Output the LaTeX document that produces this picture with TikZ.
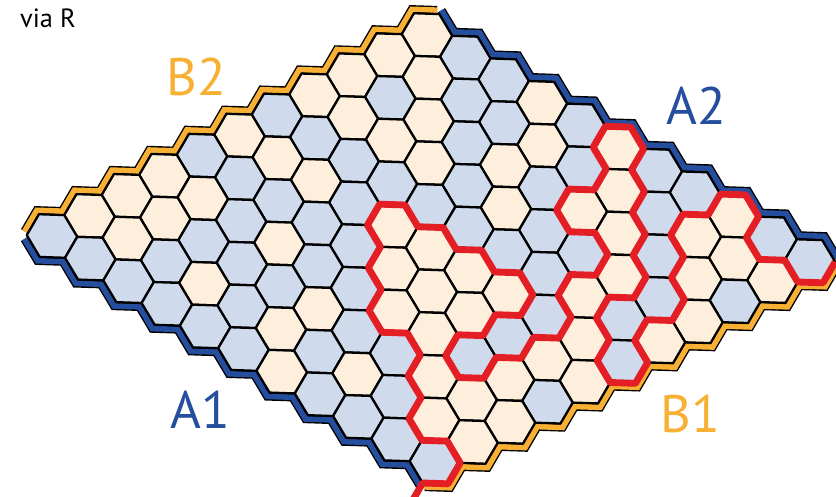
\documentclass[tikz,border=0pt]{standalone}
\usepackage{fontspec}
\setmainfont{PT Sans}
\definecolor{hexblue}{RGB}{207,218,236}
\definecolor{hexcream}{RGB}{253,239,219}
\definecolor{sideblue}{RGB}{38,78,158}
\definecolor{sideorange}{RGB}{247,176,52}
\definecolor{chainred}{RGB}{227,30,36}

\begin{document}
\begin{tikzpicture}[
            cell b/.style = {fill=hexblue, draw=black, line width=1.3pt, line join=round},
            cell c/.style = {fill=hexcream, draw=black, line width=1.3pt, line join=round},
            band/.style = {draw=black, line width=0.8pt, double distance=3.2pt},
            chain/.style = {draw=chainred, line width=3.9pt, line join=round},
            label/.style = {font=\fontsize{30}{30}\selectfont}
        ]
        \useasboundingbox (0,0) rectangle (16.72,-9.92);

        % board, cell (i,j) sits at (3i,3j)
        \begin{scope}[shift={(8.54,-0.70)}, x={(0.2553cm,-0.1507cm)}, y={(-0.25cm,-0.134cm)}]
            % sides
            \draw[band, double=sideorange, shift={(-0.042cm,0.078cm)}] (-1,31)
                \foreach \j in {10,...,0} { -- (-2,3*\j-1) -- (-1,3*\j-2) };
            \draw[band, double=sideblue, shift={(0.045cm,0.076cm)}] (-1,-2)
                \foreach \i in {0,...,9} { -- (3*\i+1,-1) -- (3*\i+2,-2) } -- (31,-1);
            \draw[band, double=sideblue, shift={(-0.045cm,-0.076cm)}] (-1,31)
                \foreach \i in {0,...,9} { -- (3*\i+1,32) -- (3*\i+2,31) } -- (31,32);
            \draw[band, double=sideorange, shift={(0.042cm,-0.078cm)}] (31,32)
                \foreach \j in {10,...,0} { -- (32,3*\j+1) -- (31,3*\j-1) };

            % cells, one row per j
            \foreach \row [count=\j from 0] in {
                {c,b,b,c,b,c,b,b,c,b,b},
                {c,c,b,b,c,b,c,b,c,c,c},
                {c,b,c,b,c,b,c,c,b,c,b},
                {c,c,c,c,b,c,b,b,c,b,c},
                {b,b,b,b,b,b,b,b,c,b,c},
                {c,c,c,b,c,c,c,c,b,c,b},
                {b,b,b,b,b,c,c,c,b,c,c},
                {c,c,b,c,b,b,c,c,b,c,b},
                {c,c,b,b,b,c,b,b,c,c,c},
                {c,c,b,c,b,c,b,c,b,c,c},
                {b,b,b,b,b,b,c,b,b,b,b}} {
                \foreach \c [count=\i from 0] in \row {
                    \draw[cell \c] (3*\i,3*\j) ++(2,1) -- ++(-1,1) -- ++(-2,-1)
                        -- ++(-1,-2) -- ++(1,-1) -- ++(2,1) -- cycle;
                }
            }

            % the red interface
            \draw[chain] (31.8,33.6) \foreach \p in {
                (31,32),(32,31),(31,29),(29,28),(28,29),(26,28),(25,26),(23,25),
                (22,23),(20,22),(19,23),(17,22),(16,20),(14,19),(13,17),(11,16),
                (10,14),(11,13),(13,14),(14,13),(16,14),(17,13),(19,14),(20,13),
                (22,14),(23,16),(22,17),(23,19),(22,20),(23,22),(25,23),(26,22),
                (25,20),(26,19),(25,17),(26,16),(25,14),(23,13),(22,11),(23,10),
                (22,8),(20,7),(19,8),(17,7),(16,5),(17,4),(16,2),(14,1),
                (13,-1),(14,-2),(16,-1),(17,1),(19,2),(20,4),(22,5),(23,7),
                (25,8),(26,10),(25,11),(26,13),(28,14),(29,16),(31,17),(32,16),
                (31,14),(29,13),(28,11),(29,10),(28,8),(26,7),(25,5),(23,4),
                (22,2),(23,1),(22,-1),(23,-2),(25,-1),(26,1),(28,2),(29,1),
                (31,2),(32,1),(31,-1)} { -- \p };
        \end{scope}

        \node[anchor=west, font=\fontsize{15}{15}\selectfont] (title) at (0.28,-0.36) {via R};
        \node[label, text=sideorange] (btwo) at (3.92,-1.54) {B2};
        \node[label, text=sideblue] (atwo) at (13.92,-2.12) {A2};
        \node[label, text=sideblue] (aone) at (4.0,-8.2) {A1};
        \node[label, text=sideorange] (bone) at (13.8,-8.28) {B1};
    \end{tikzpicture}
\end{document}
